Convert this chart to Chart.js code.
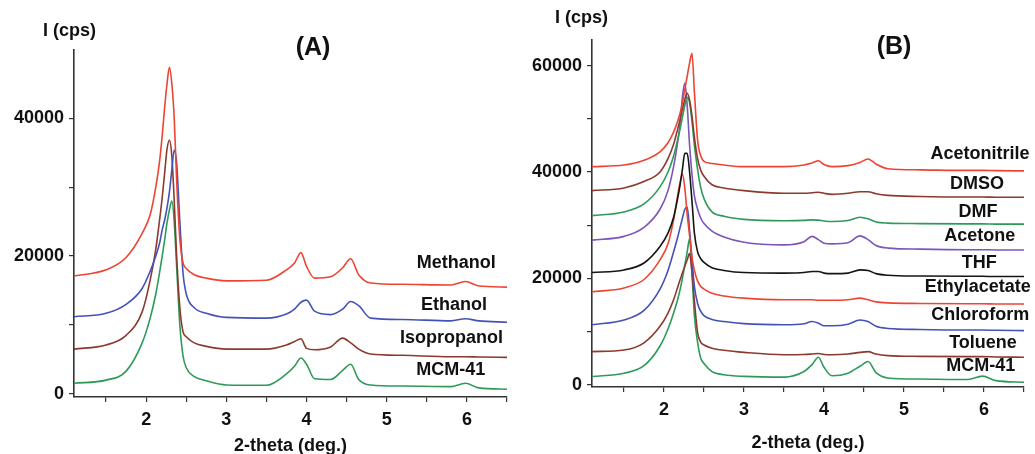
<!DOCTYPE html>
<html>
<head>
<meta charset="utf-8">
<script src="https://cdn.jsdelivr.net/npm/chart.js@4.4.1/dist/chart.umd.min.js"></script>
<style>
  html, body { margin: 0; padding: 0; background: #fff; }
  #wrap { position: relative; width: 1035px; height: 454px; overflow: hidden; }
  #chartA { position: absolute; left: 0; top: 0; }
  #chartB { position: absolute; left: 515px; top: 0; }
</style>
</head>
<body>
<div id="wrap">
  <canvas id="chartA" width="515" height="454"></canvas>
  <canvas id="chartB" width="520" height="454"></canvas>
</div>
<script>
// 2-theta sampling positions (deg.), shared by every curve
const twoTheta = [1.1, 1.5, 1.75, 1.95, 2.05, 2.12, 2.17, 2.2, 2.23, 2.26, 2.29, 2.32, 2.35, 2.38, 2.42, 2.46, 2.5, 2.6, 2.75, 3.0,
  3.5, 3.75, 3.85, 3.93, 4.0, 4.1, 4.3, 4.45, 4.55, 4.65, 4.8, 5.2, 5.8, 5.98, 6.15, 6.5];

// panel A - alcohols (intensity, cps)
const methanol = [17100, 18000, 19800, 23300, 26000, 30000, 34000, 37500, 41500, 45000, 47400, 45000, 40000, 31000, 22500, 19000, 18200, 17300, 16800, 16400,
  16500, 18000, 19000, 20500, 18500, 16800, 17000, 18300, 19600, 17300, 16100, 15900, 15800, 16300, 15650, 15500];
const ethanol = [11200, 11700, 13000, 15300, 17800, 20000, 22000, 23800, 25200, 27000, 29300, 32500, 35400, 33500, 25000, 17500, 14500, 12500, 11700, 11100,
  11000, 11600, 12300, 13300, 13600, 12000, 11500, 12300, 13400, 12800, 11000, 10800, 10600, 10900, 10600, 10400];
const isopropanol = [6500, 7100, 8500, 11900, 16500, 21000, 25500, 28500, 32000, 35500, 36800, 34500, 28000, 20000, 12500, 9000, 8300, 7400, 6900, 6500,
  6500, 7100, 7600, 8000, 6600, 6400, 6800, 8100, 7400, 6500, 5800, 5600, 5400, 5400, 5350, 5300];
const mcmA = [1550, 2000, 3300, 7400, 11000, 14500, 17800, 20000, 22300, 24800, 26700, 28000, 25000, 18500, 10000, 5500, 3800, 2500, 1900, 1300,
  1250, 2900, 4000, 5200, 4300, 2200, 2100, 3400, 4300, 2100, 1300, 1150, 1050, 1550, 870, 680];

// panel B - other solvents (intensity, cps)
const acetonitrile = [41000, 41300, 42200, 43800, 45500, 47500, 49500, 51000, 53000, 55500, 58000, 60500, 62300, 55000, 46000, 43000, 42000, 41600, 41300, 41000,
  41000, 41300, 41700, 42100, 41400, 41000, 41200, 41800, 42450, 41500, 40600, 40400, 40300, 40300, 40250, 40200];
const dmso = [36500, 37000, 38200, 40000, 42500, 45200, 48000, 49800, 51800, 53600, 54800, 53500, 50500, 46500, 42500, 40300, 39200, 37600, 37000, 36500,
  36000, 36000, 36100, 36200, 36000, 35800, 36000, 36300, 36300, 35900, 35600, 35400, 35300, 35300, 35250, 35250];
const dmf = [31800, 32500, 34000, 37200, 40000, 43000, 46000, 48000, 50300, 52500, 54000, 53000, 49500, 45000, 40500, 37000, 35000, 32500, 31700, 31100,
  30850, 30900, 31000, 30950, 30800, 30700, 30900, 31500, 31200, 30600, 30400, 30300, 30250, 30250, 30200, 30200];
const acetone = [27200, 27900, 29600, 33000, 36500, 41000, 45500, 49000, 54000, 56700, 52500, 45000, 39500, 35500, 33000, 31300, 30300, 28900, 27800, 26800,
  26300, 26900, 27900, 27300, 26600, 26500, 26700, 28000, 27300, 26200, 25700, 25500, 25400, 25400, 25350, 25350];
const thf = [21100, 21600, 22900, 26000, 28500, 31500, 35000, 37500, 40500, 43500, 43500, 40000, 34500, 28500, 25000, 23700, 23000, 22000, 21500, 21100,
  21000, 21100, 21300, 21300, 21000, 20900, 21000, 21600, 21500, 20900, 20600, 20450, 20400, 20400, 20350, 20350];
const ethylacetate = [17500, 18200, 19800, 23500, 26500, 31000, 35500, 38000, 39600, 37000, 32000, 28000, 24000, 21500, 19500, 18500, 18000, 17200, 16700, 16300,
  16000, 16000, 16000, 15900, 15900, 15900, 16000, 16300, 16000, 15600, 15400, 15300, 15250, 15250, 15200, 15200];
const chloroform = [11300, 12200, 14000, 18000, 21500, 25000, 27700, 29500, 31300, 33000, 33400, 29000, 23500, 18500, 15300, 13800, 13000, 12300, 11900, 11500,
  11300, 11500, 11900, 11600, 11100, 11100, 11400, 12200, 11900, 11000, 10600, 10400, 10300, 10300, 10250, 10200];
const toluene = [6250, 6550, 7900, 11000, 13500, 16000, 18300, 19700, 21000, 22300, 23500, 24700, 21000, 15800, 9800, 8000, 7500, 6900, 6500, 6100,
  5650, 5700, 5800, 5900, 5700, 5650, 5800, 6100, 6250, 5800, 5500, 5350, 5300, 5300, 5250, 5200];
const mcmB = [1560, 2200, 3600, 7300, 10500, 13500, 16000, 17800, 20000, 22500, 25000, 27500, 21000, 13000, 8000, 5000, 4000, 2500, 1900, 1600,
  1450, 2500, 3800, 5200, 3300, 1700, 2200, 3500, 4380, 2300, 1300, 1100, 1000, 1650, 800, 500];

const xTicks = [1.5, 2, 2.5, 3, 3.5, 4, 4.5, 5, 5.5, 6, 6.5];
const yTicksA = [0, 10000, 20000, 30000, 40000];
const yTicksB = [0, 10000, 20000, 30000, 40000, 50000, 60000];

const RED = '#ee4433', BROWN = '#8b3a2f', GREEN = '#2e9a5a', BLUE = '#4452b8', PURPLE = '#7b55b8', BLACK = '#151515';
const FONT = '"Liberation Sans", Arial, sans-serif';

function series(name, ys, color) {
  return {
    label: name,
    data: twoTheta.map((x, i) => ({ x: x, y: ys[i] })),
    borderColor: color,
    borderWidth: 1.6,
    pointRadius: 0,
    fill: false,
    cubicInterpolationMode: 'monotone'
  };
}

// draws panel tag, y unit and the curve names
const panelText = {
  id: 'panelText',
  afterDraw(chart, args, opts) {
    const ctx = chart.ctx;
    const xs = chart.scales.x, ys = chart.scales.y;
    ctx.save();
    ctx.fillStyle = '#111';
    ctx.textBaseline = 'middle';
    ctx.font = 'bold 18px ' + FONT;
    ctx.textAlign = 'left';
    ctx.fillText('I (cps)', opts.unit[0], opts.unit[1]);
    ctx.font = 'bold 25px ' + FONT;
    ctx.textAlign = 'center';
    ctx.fillText(opts.tag, opts.tagPos[0], opts.tagPos[1]);
    ctx.font = 'bold 18px ' + FONT;
    opts.names.forEach(n => {
      ctx.textAlign = n.align;
      ctx.fillText(n.text, xs.getPixelForValue(n.x), ys.getPixelForValue(n.y));
    });
    ctx.restore();
  }
};

function makeChart(id, datasets, yMin, yMax, yTicks, box, text) {
  const tickFont = { family: FONT, size: 18, weight: 'bold' };
  return new Chart(document.getElementById(id), {
    type: 'line',
    data: { datasets: datasets },
    options: {
      responsive: false,
      animation: false,
      layout: { padding: { top: box.top, right: box.right, left: 0, bottom: 0 } },
      plugins: { legend: { display: false }, tooltip: { enabled: false }, panelText: text },
      scales: {
        x: {
          type: 'linear', min: 1.1, max: 6.5,
          afterBuildTicks: s => { s.ticks = xTicks.map(v => ({ value: v })); },
          afterFit: s => { s.height = box.xh; },
          ticks: { color: '#111', font: tickFont, padding: 7, maxRotation: 0, autoSkip: false,
            callback: v => (Number.isInteger(v) ? String(v) : '') },
          grid: { drawOnChartArea: false, tickLength: 5, color: '#333', lineWidth: 1.2 },
          border: { color: '#333', width: 1.6 },
          title: { display: true, text: '2-theta (deg.)', color: '#111', font: tickFont, padding: { top: 0, bottom: box.tb } }
        },
        y: {
          type: 'linear', min: yMin, max: yMax,
          afterBuildTicks: s => { s.ticks = yTicks.map(v => ({ value: v })); },
          afterFit: s => { s.width = box.yw; },
          ticks: { color: '#111', font: tickFont, padding: 5, autoSkip: false,
            callback: v => (v % 20000 === 0 ? String(v) : '') },
          grid: { drawOnChartArea: false, tickLength: 5, color: '#333', lineWidth: 1.2 },
          border: { color: '#333', width: 1.6 }
        }
      }
    },
    plugins: [panelText]
  });
}

makeChart('chartA', [
  series('Methanol', methanol, RED),
  series('Ethanol', ethanol, BLUE),
  series('Isopropanol', isopropanol, BROWN),
  series('MCM-41', mcmA, GREEN)
], -450, 49900, yTicksA, { top: 50, right: 8, yw: 74, xh: 57, tb: -3 }, {
  tag: '(A)', tagPos: [313, 48], unit: [43, 31],
  names: [
    { text: 'Methanol', x: 6.36, y: 19000, align: 'right' },
    { text: 'Ethanol', x: 6.25, y: 12900, align: 'right' },
    { text: 'Isopropanol', x: 6.45, y: 8100, align: 'right' },
    { text: 'MCM-41', x: 6.23, y: 3500, align: 'right' }
  ]
});

makeChart('chartB', [
  series('Acetonitrile', acetonitrile, RED),
  series('DMSO', dmso, BROWN),
  series('DMF', dmf, GREEN),
  series('Acetone', acetone, PURPLE),
  series('THF', thf, BLACK),
  series('Ethylacetate', ethylacetate, RED),
  series('Chloroform', chloroform, BLUE),
  series('Toluene', toluene, BROWN),
  series('MCM-41', mcmB, GREEN)
], -400, 64800, yTicksB, { top: 40, right: 11, yw: 77, xh: 67, tb: 0 }, {
  tag: '(B)', tagPos: [379, 47], unit: [40, 18],
  names: [
    { text: 'Acetonitrile', x: 6.57, y: 43400, align: 'right' },
    { text: 'DMSO', x: 6.25, y: 37750, align: 'right' },
    { text: 'DMF', x: 6.17, y: 32500, align: 'right' },
    { text: 'Acetone', x: 6.39, y: 28000, align: 'right' },
    { text: 'THF', x: 6.16, y: 22900, align: 'right' },
    { text: 'Ethylacetate', x: 5.26, y: 18400, align: 'left' },
    { text: 'Chloroform', x: 5.34, y: 13150, align: 'left' },
    { text: 'Toluene', x: 6.41, y: 7900, align: 'right' },
    { text: 'MCM-41', x: 6.39, y: 3570, align: 'right' }
  ]
});
</script>
</body>
</html>
